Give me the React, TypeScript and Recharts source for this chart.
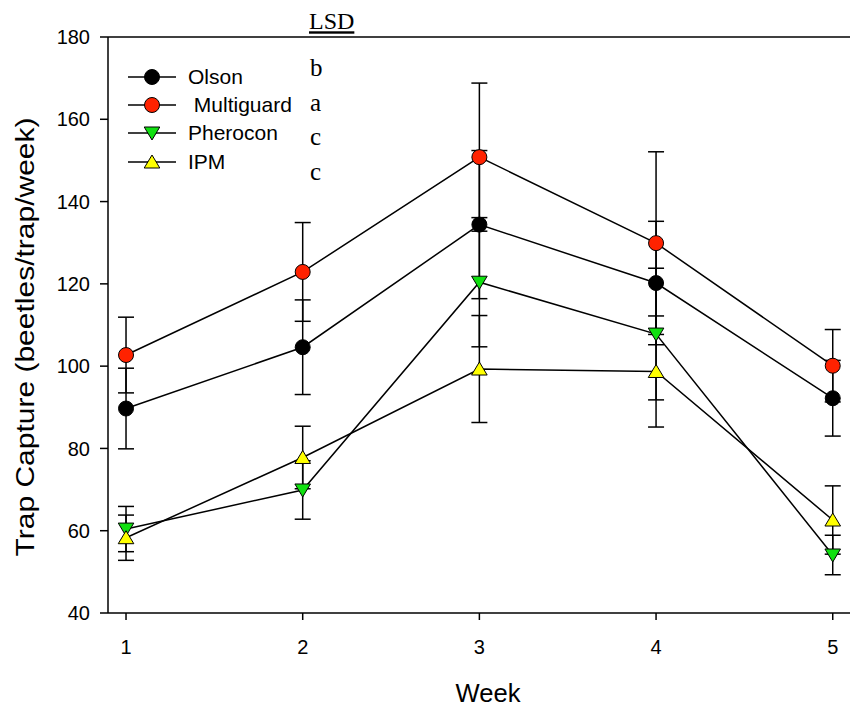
import React from 'react';
import { ComposedChart, Line, XAxis, YAxis, ErrorBar, ReferenceLine, Legend } from 'recharts';

const weeks = [1, 2, 3, 4, 5];
const olson = [89.7, 104.6, 134.4, 120.2, 92.2];
const olsonErr = [9.8, 11.5, 18, 15, 9.2];
const multiguard = [102.7, 122.9, 150.8, 129.9, 100.1];
const multiguardErr = [9.2, 12, 18, 22.2, 8.8];
const pherocon = [60.4, 69.9, 120.4, 107.8, 54.1];
const pheroconErr = [5.5, 7.1, 15.7, 16, 4.8];
const ipm = [58.3, 77.8, 99.3, 98.7, 62.6];
const ipmErr = [5.5, 7.6, 13, 13.5, 8.3];

const yTicks = [40, 60, 80, 100, 120, 140, 160, 180];
const seriesNames = ['Olson', ' Multiguard', 'Pherocon', 'IPM'];
const lsdLetters = ['b', 'a', 'c', 'c'];

const data = weeks.map((w, i) => ({
  week: w,
  olson: olson[i],
  olsonErr: olsonErr[i],
  multiguard: multiguard[i],
  multiguardErr: multiguardErr[i],
  pherocon: pherocon[i],
  pheroconErr: pheroconErr[i],
  ipm: ipm[i],
  ipmErr: ipmErr[i],
}));

type Kind = 'circle' | 'down' | 'up';
const seriesStyle: { key: string; kind: Kind; fill: string }[] = [
  { key: 'olson', kind: 'circle', fill: '#000000' },
  { key: 'multiguard', kind: 'circle', fill: '#FF2200' },
  { key: 'pherocon', kind: 'down', fill: '#10E010' },
  { key: 'ipm', kind: 'up', fill: '#FFFF00' },
];

const FONT = '"Liberation Sans", Arial, sans-serif';
const SERIF = '"Liberation Serif", "Times New Roman", serif';

function Marker({ cx, cy, kind, fill }: { cx: number; cy: number; kind: Kind; fill: string }) {
  if (kind === 'circle') {
    return <circle cx={cx} cy={cy} r={7.5} fill={fill} stroke="#000" strokeWidth={1} />;
  }
  if (kind === 'down') {
    return (
      <polygon
        points={`${cx - 7.8},${cy - 6} ${cx + 7.8},${cy - 6} ${cx},${cy + 7}`}
        fill={fill}
        stroke="#000"
        strokeWidth={1}
      />
    );
  }
  return (
    <polygon
      points={`${cx},${cy - 7} ${cx + 7.8},${cy + 6} ${cx - 7.8},${cy + 6}`}
      fill={fill}
      stroke="#000"
      strokeWidth={1}
    />
  );
}

const makeDot = (kind: Kind, fill: string) => (props: any) => {
  const { cx, cy, index } = props;
  if (cx == null || cy == null) return <g key={`d-${index}`} />;
  return (
    <g key={`d-${kind}-${fill}-${index}`}>
      <Marker cx={cx} cy={cy} kind={kind} fill={fill} />
    </g>
  );
};

const renderLegend = () => (
  <div style={{ fontFamily: FONT, fontSize: 21, color: '#000' }}>
    {seriesStyle.map((s, i) => (
      <div key={s.key} style={{ display: 'flex', alignItems: 'center', height: 28.3 }}>
        <svg width={48} height={20} style={{ display: 'block' }}>
          <line x1={0} y1={10} x2={48} y2={10} stroke="#000" strokeWidth={1.5} />
          <Marker cx={24} cy={10} kind={s.kind} fill={s.fill} />
        </svg>
        <span style={{ marginLeft: 12, whiteSpace: 'pre', lineHeight: '28px' }}>{seriesNames[i]}</span>
      </div>
    ))}
  </div>
);

const YLabel = (props: any) => {
  const vb = props.viewBox || { x: 0, y: 29, width: 100, height: 576 };
  const cx = vb.x + 17;
  const cy = vb.y + vb.height / 2 + 12;
  return (
    <text
      x={cx}
      y={cy}
      transform={`rotate(-90, ${cx}, ${cy})`}
      textAnchor="middle"
      dominantBaseline="central"
      fontFamily={FONT}
      fontSize={26}
      textLength={439}
      lengthAdjust="spacingAndGlyphs"
      fill="#000"
    >
      Trap Capture (beetles/trap/week)
    </text>
  );
};

const XLabel = (props: any) => {
  const vb = props.viewBox || { x: 100, y: 605, width: 750, height: 95 };
  const cx = vb.x + vb.width / 2 + 5;
  const cy = vb.y + vb.height - 6.3;
  return (
    <text
      x={cx}
      y={cy}
      textAnchor="middle"
      fontFamily={FONT}
      fontSize={26}
      textLength={65}
      lengthAdjust="spacingAndGlyphs"
      fill="#000"
    >
      Week
    </text>
  );
};

export default function App() {
  const W = 850;
  const H = 700;
  return (
    <div style={{ position: 'relative', width: W, height: H, background: '#fff' }}>
      <ComposedChart
        width={W}
        height={H}
        data={data}
        margin={{ top: 29, right: 0, left: 0, bottom: 0 }}
      >
        <XAxis
          dataKey="week"
          type="number"
          domain={[0.898, 5.143]}
          ticks={weeks}
          allowDataOverflow
          height={95}
          tickSize={7}
          tickMargin={20}
          stroke="#000"
          strokeWidth={1.5}
          tick={{ fill: '#000', fontFamily: FONT, fontSize: 20 }}
          label={<XLabel />}
        />
        <YAxis
          type="number"
          domain={[40, 180]}
          ticks={yTicks}
          allowDataOverflow
          width={100}
          tickSize={8}
          tickMargin={10}
          stroke="#000"
          strokeWidth={1.5}
          tick={{ fill: '#000', fontFamily: FONT, fontSize: 20 }}
          label={<YLabel />}
        />
        <ReferenceLine y={180} stroke="#000" strokeWidth={1.5} />
        {seriesStyle.map((s) => (
          <Line
            key={`line-${s.key}`}
            dataKey={s.key}
            type="linear"
            stroke="#000"
            strokeWidth={1.5}
            isAnimationActive={false}
            dot={false}
            activeDot={false}
            legendType="none"
          >
            <ErrorBar dataKey={`${s.key}Err`} direction="y" width={8} stroke="#000" strokeWidth={1.5} />
          </Line>
        ))}
        {seriesStyle.map((s) => (
          <Line
            key={`dots-${s.key}`}
            dataKey={s.key}
            type="linear"
            stroke="none"
            isAnimationActive={false}
            dot={makeDot(s.kind, s.fill)}
            activeDot={false}
            legendType="none"
          />
        ))}
        <Legend
          layout="vertical"
          align="center"
          verticalAlign="middle"
          content={renderLegend}
          wrapperStyle={{ position: 'absolute', left: 120, top: 54.5, width: 'auto', height: 'auto' }}
        />
      </ComposedChart>
      <svg
        width={W}
        height={H}
        style={{ position: 'absolute', left: 0, top: 0, pointerEvents: 'none' }}
      >
        <text x={301} y={21.3} fontFamily={SERIF} fontSize={24} textDecoration="underline" fill="#000">
          LSD
        </text>
        {lsdLetters.map((l, i) => (
          <text key={i} x={302} y={68 + i * 34.7} fontFamily={SERIF} fontSize={25} fill="#000">
            {l}
          </text>
        ))}
      </svg>
    </div>
  );
}
